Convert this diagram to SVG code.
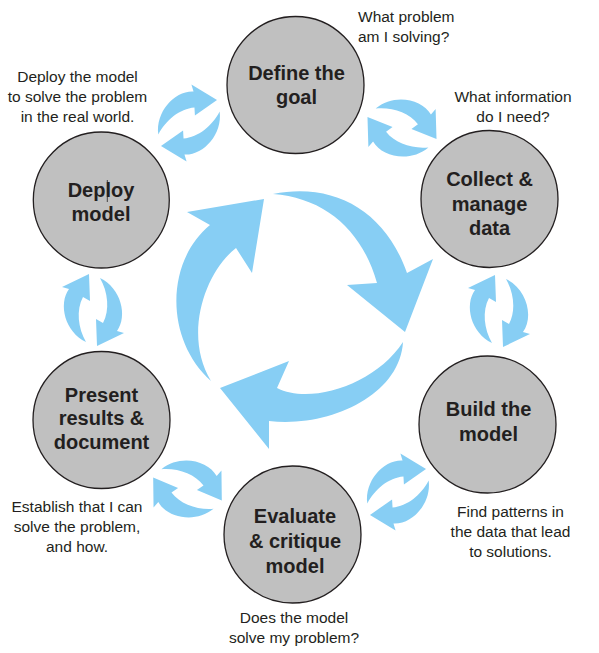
<svg xmlns="http://www.w3.org/2000/svg" xmlns:xlink="http://www.w3.org/1999/xlink" width="599" height="653" viewBox="0 0 599 653">
<style>
.node circle{fill:#c0c0c0;stroke:#231f20;stroke-width:1.3}
.lbl{font-family:"Liberation Sans",Arial,sans-serif;font-weight:bold;font-size:20px;fill:#231f20;text-anchor:middle}
.ann{font-family:"Liberation Sans",Arial,sans-serif;font-size:15.5px;fill:#231f20}
.mid{text-anchor:middle}
.arr{fill:#87cef4}
</style>
<defs>
<path id="sa" d="M -7,32 C -28,22 -35,-6 -24,-21 L -31,-23 L -4,-36 L -3,-9 L -10,-13 C -17,0 -15,18 -7,32 Z"/>
<g id="cyc"><use xlink:href="#sa"/><use xlink:href="#sa" transform="rotate(180)"/></g>
</defs>
<rect width="599" height="653" fill="#ffffff"/>
<g id="connectors" class="arr">
<path d="M 273,194 C 333,182 385,210 407,273 L 433,259 L 405,332 L 347,285 L 377,283 C 362,230 325,198 273,194 Z"/>
<path d="M 403,342 C 400,395 330,428 269,421 L 269,449 L 220,388 L 289,361 L 277,388 C 310,405 375,385 403,342 Z"/>
<path d="M 211,381 C 165,340 165,262 210,225 L 187,212 L 264,199 L 252,273 L 236,248 C 205,272 183,335 211,381 Z"/>
<use xlink:href="#cyc" transform="translate(189,123) rotate(57)"/>
<use xlink:href="#cyc" transform="translate(402,128) rotate(-66)"/>
<use xlink:href="#cyc" transform="translate(499,311)"/>
<use xlink:href="#cyc" transform="translate(93,310)"/>
<use xlink:href="#cyc" transform="translate(398,492) rotate(57)"/>
<use xlink:href="#cyc" transform="translate(187.5,489) rotate(-65)"/>
</g>
<g id="define" class="node">
<circle cx="295.5" cy="85" r="68.5"/>
<text class="lbl" x="296.5" y="80">Define the</text>
<text class="lbl" x="296.5" y="104">goal</text>
</g>
<g id="collect" class="node">
<circle cx="489.5" cy="199" r="68.5"/>
<text class="lbl" x="489.5" y="186">Collect &amp;</text>
<text class="lbl" x="489.5" y="210.5">manage</text>
<text class="lbl" x="489.5" y="234.5">data</text>
</g>
<g id="build" class="node">
<circle cx="487.5" cy="424.5" r="68.5"/>
<text class="lbl" x="488.5" y="416">Build the</text>
<text class="lbl" x="488.5" y="441">model</text>
</g>
<g id="evaluate" class="node">
<circle cx="292.5" cy="534.5" r="68.5"/>
<text class="lbl" x="295" y="523">Evaluate</text>
<text class="lbl" x="295" y="548">&amp; critique</text>
<text class="lbl" x="295" y="573">model</text>
</g>
<g id="present" class="node">
<circle cx="101.5" cy="420" r="68.5"/>
<text class="lbl" x="101.5" y="401.5">Present</text>
<text class="lbl" x="101.5" y="425">results &amp;</text>
<text class="lbl" x="101.5" y="449">document</text>
</g>
<g id="deploy" class="node">
<circle cx="101.3" cy="200" r="68"/>
<text class="lbl" x="101" y="196.5">Deploy</text>
<text class="lbl" x="101" y="220.5">model</text>
<line x1="107.3" y1="180" x2="107.3" y2="202" stroke="#231f20" stroke-width="0.8"/>
</g>
<g id="annotations" class="ann">
<text x="358" y="21.5">What problem</text>
<text x="358" y="41.5">am I solving?</text>
<text class="mid" x="77.5" y="81.5">Deploy the model</text>
<text class="mid" x="77.5" y="102">to solve the problem</text>
<text class="mid" x="77.5" y="122">in the real world.</text>
<text class="mid" x="513" y="101.5">What information</text>
<text class="mid" x="513" y="121.5">do I need?</text>
<text class="mid" x="77" y="511.5">Establish that I can</text>
<text class="mid" x="77" y="532">solve the problem,</text>
<text class="mid" x="77" y="552">and how.</text>
<text class="mid" x="510.5" y="516.5">Find patterns in</text>
<text class="mid" x="510.5" y="536.5">the data that lead</text>
<text class="mid" x="510.5" y="556.5">to solutions.</text>
<text class="mid" x="294" y="623">Does the model</text>
<text class="mid" x="294" y="643">solve my problem?</text>
</g>
</svg>
